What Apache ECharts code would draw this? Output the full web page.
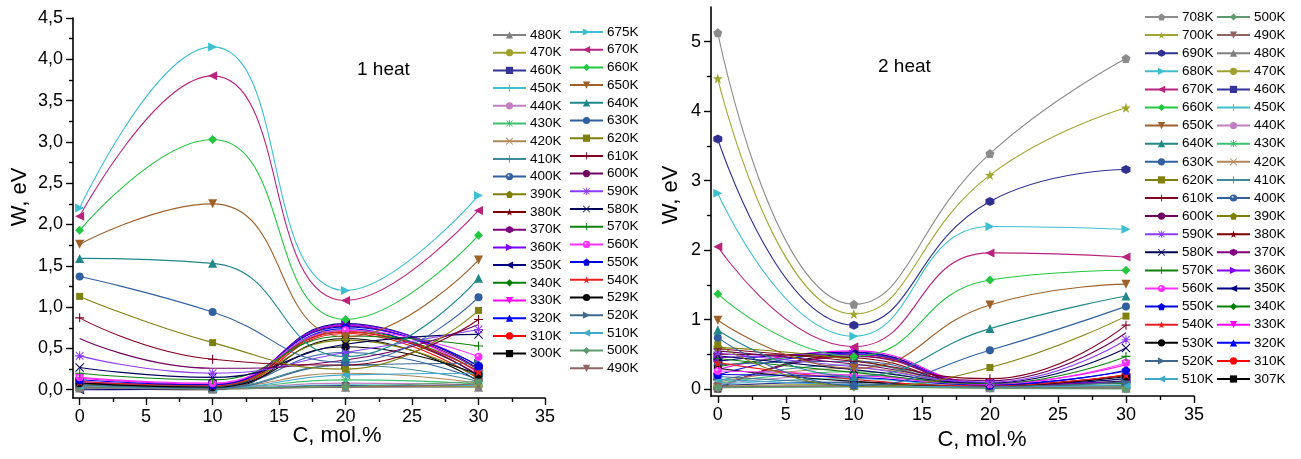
<!DOCTYPE html>
<html>
<head>
<meta charset="utf-8">
<script src="https://cdn.jsdelivr.net/npm/echarts@6/dist/echarts.min.js"></script>
<style>
html,body{margin:0;padding:0;background:#fff}
#chart{width:1301px;height:459px}
</style>
</head>
<body>
<div id="chart"></div>
<script>
// Composition C, mol.% (x positions of every curve)
const C = [0, 10, 20, 30];

// ---- 1 heat: W, eV at C = 0, 10, 20, 30 ----
const w1_300K = [0.02, 0.00, 0.62, 0.10];
const w1_310K = [0.03, 0.01, 0.68, 0.13];
const w1_320K = [0.04, 0.02, 0.74, 0.16];
const w1_330K = [0.14, 0.07, 0.78, 0.20];
const w1_340K = [0.05, 0.03, 0.72, 0.22];
const w1_350K = [0.00, 0.02, 0.80, 0.25];
const w1_360K = [0.10, 0.05, 0.79, 0.28];
const w1_370K = [0.08, 0.06, 0.77, 0.24];
const w1_380K = [0.06, 0.04, 0.70, 0.18];
const w1_390K = [0.07, 0.05, 0.60, 0.15];
const w1_400K = [0.05, 0.04, 0.45, 0.12];
const w1_410K = [0.04, 0.03, 0.30, 0.10];
const w1_420K = [0.04, 0.03, 0.20, 0.08];
const w1_430K = [0.03, 0.02, 0.12, 0.07];
const w1_440K = [0.03, 0.02, 0.08, 0.06];
const w1_450K = [0.02, 0.02, 0.06, 0.05];
const w1_460K = [0.02, 0.01, 0.05, 0.04];
const w1_470K = [0.02, 0.01, 0.04, 0.04];
const w1_480K = [0.02, 0.01, 0.03, 0.03];
const w1_490K = [0.03, 0.02, 0.03, 0.07];
const w1_500K = [0.04, 0.02, 0.04, 0.10];
const w1_510K = [0.05, 0.02, 0.18, 0.20];
const w1_520K = [0.06, 0.02, 0.30, 0.32];
const w1_529K = [0.08, 0.03, 0.52, 0.18];
const w1_540K = [0.10, 0.05, 0.70, 0.22];
const w1_550K = [0.12, 0.06, 0.76, 0.29];
const w1_560K = [0.15, 0.08, 0.72, 0.40];
const w1_570K = [0.20, 0.12, 0.65, 0.53];
const w1_580K = [0.27, 0.15, 0.55, 0.67];
const w1_590K = [0.41, 0.20, 0.45, 0.73];
const w1_600K = [0.62, 0.26, 0.36, 0.79];
const w1_610K = [0.87, 0.37, 0.30, 0.85];
const w1_620K = [1.13, 0.57, 0.25, 0.96];
const w1_630K = [1.37, 0.94, 0.33, 1.12];
const w1_640K = [1.59, 1.53, 0.40, 1.35];
const w1_650K = [1.76, 2.25, 0.64, 1.57];
const w1_660K = [1.93, 3.03, 0.85, 1.87];
const w1_670K = [2.10, 3.80, 1.08, 2.17];
const w1_675K = [2.20, 4.15, 1.20, 2.35];

// ---- 2 heat: W, eV at C = 0, 10, 20, 30 ----
const w2_307K = [0.00, 0.50, 0.05, 0.12];
const w2_310K = [0.02, 0.48, 0.06, 0.20];
const w2_320K = [0.20, 0.52, 0.07, 0.26];
const w2_330K = [0.28, 0.55, 0.08, 0.35];
const w2_340K = [0.32, 0.50, 0.06, 0.08];
const w2_350K = [0.40, 0.53, 0.05, 0.15];
const w2_360K = [0.45, 0.50, 0.07, 0.10];
const w2_370K = [0.02, 0.47, 0.06, 0.10];
const w2_380K = [0.50, 0.45, 0.05, 0.20];
const w2_390K = [0.60, 0.42, 0.05, 0.05];
const w2_400K = [0.35, 0.40, 0.04, 0.04];
const w2_410K = [0.12, 0.35, 0.04, 0.03];
const w2_420K = [0.10, 0.30, 0.03, 0.03];
const w2_430K = [0.08, 0.25, 0.03, 0.02];
const w2_440K = [0.07, 0.20, 0.03, 0.02];
const w2_450K = [0.06, 0.15, 0.02, 0.02];
const w2_460K = [0.05, 0.10, 0.02, 0.01];
const w2_470K = [0.04, 0.07, 0.02, 0.01];
const w2_480K = [0.03, 0.05, 0.02, 0.01];
const w2_490K = [0.03, 0.04, 0.02, 0.01];
const w2_500K = [0.02, 0.03, 0.01, 0.00];
const w2_510K = [0.14, 0.06, 0.03, 0.06];
const w2_520K = [0.18, 0.08, 0.04, 0.10];
const w2_530K = [0.30, 0.11, 0.05, 0.18];
const w2_540K = [0.38, 0.14, 0.05, 0.21];
const w2_550K = [0.21, 0.17, 0.06, 0.27];
const w2_560K = [0.26, 0.20, 0.07, 0.38];
const w2_570K = [0.44, 0.24, 0.08, 0.47];
const w2_580K = [0.48, 0.28, 0.09, 0.59];
const w2_590K = [0.52, 0.32, 0.10, 0.71];
const w2_600K = [0.55, 0.36, 0.12, 0.81];
const w2_610K = [0.58, 0.40, 0.15, 0.92];
const w2_620K = [0.64, 0.04, 0.31, 1.05];
const w2_630K = [0.74, 0.05, 0.56, 1.19];
const w2_640K = [0.85, 0.18, 0.87, 1.34];
const w2_650K = [0.99, 0.30, 1.21, 1.51];
const w2_660K = [1.37, 0.47, 1.57, 1.71];
const w2_670K = [2.05, 0.61, 1.96, 1.90];
const w2_680K = [2.82, 0.76, 2.34, 2.30];
const w2_690K = [3.60, 0.92, 2.70, 3.16];
const w2_700K = [4.47, 1.08, 3.08, 4.05];
const w2_708K = [5.13, 1.22, 3.39, 4.76];

// Series per panel, in legend order
const heat1Names = ['300K','310K','320K','330K','340K','350K','360K','370K','380K','390K','400K','410K','420K','430K','440K','450K','460K','470K','480K','490K','500K','510K','520K','529K','540K','550K','560K','570K','580K','590K','600K','610K','620K','630K','640K','650K','660K','670K','675K'];
const heat1Rows = [w1_300K,w1_310K,w1_320K,w1_330K,w1_340K,w1_350K,w1_360K,w1_370K,w1_380K,w1_390K,w1_400K,w1_410K,w1_420K,w1_430K,w1_440K,w1_450K,w1_460K,w1_470K,w1_480K,w1_490K,w1_500K,w1_510K,w1_520K,w1_529K,w1_540K,w1_550K,w1_560K,w1_570K,w1_580K,w1_590K,w1_600K,w1_610K,w1_620K,w1_630K,w1_640K,w1_650K,w1_660K,w1_670K,w1_675K];
const heat2Names = ['307K','310K','320K','330K','340K','350K','360K','370K','380K','390K','400K','410K','420K','430K','440K','450K','460K','470K','480K','490K','500K','510K','520K','530K','540K','550K','560K','570K','580K','590K','600K','610K','620K','630K','640K','650K','660K','670K','680K','690K','700K','708K'];
const heat2Rows = [w2_307K,w2_310K,w2_320K,w2_330K,w2_340K,w2_350K,w2_360K,w2_370K,w2_380K,w2_390K,w2_400K,w2_410K,w2_420K,w2_430K,w2_440K,w2_450K,w2_460K,w2_470K,w2_480K,w2_490K,w2_500K,w2_510K,w2_520K,w2_530K,w2_540K,w2_550K,w2_560K,w2_570K,w2_580K,w2_590K,w2_600K,w2_610K,w2_620K,w2_630K,w2_640K,w2_650K,w2_660K,w2_670K,w2_680K,w2_690K,w2_700K,w2_708K];

// Legend columns
const legend1ColA = ['480K','470K','460K','450K','440K','430K','420K','410K','400K','390K','380K','370K','360K','350K','340K','330K','320K','310K','300K'];
const legend1ColB = ['675K','670K','660K','650K','640K','630K','620K','610K','600K','590K','580K','570K','560K','550K','540K','529K','520K','510K','500K','490K'];
const legend2ColA = ['708K','700K','690K','680K','670K','660K','650K','640K','630K','620K','610K','600K','590K','580K','570K','560K','550K','540K','530K','520K','510K'];
const legend2ColB = ['500K','490K','480K','470K','460K','450K','440K','430K','420K','410K','400K','390K','380K','370K','360K','350K','340K','330K','320K','310K','307K'];

// Axis ticks
const xMajor = [0, 5, 10, 15, 20, 25, 30, 35];
const xMinor = [2.5, 7.5, 12.5, 17.5, 22.5, 27.5, 32.5];
const y1Major = [0, 0.5, 1, 1.5, 2, 2.5, 3, 3.5, 4, 4.5];
const y1Minor = [0.25, 0.75, 1.25, 1.75, 2.25, 2.75, 3.25, 3.75, 4.25];
const y2Major = [0, 1, 2, 3, 4, 5];
const y2Minor = [0.5, 1.5, 2.5, 3.5, 4.5];

// Marker shapes
const TRI_D = 'path://M0,0L10,0L5,8.66Z';
const TRI_L = 'path://M0,5L8.66,0L8.66,10Z';
const TRI_R = 'path://M0,0L8.66,5L0,10Z';
const PENT = 'path://M5,0L9.76,3.45L7.94,9.05L2.06,9.05L0.24,3.45Z';
const HEX = 'path://M5,0L9.33,2.5L9.33,7.5L5,10L0.67,7.5L0.67,2.5Z';
const STAR = 'path://M5,0L6.18,3.38L9.76,3.45L6.9,5.62L7.94,9.05L5,7L2.06,9.05L3.1,5.62L0.24,3.45L3.82,3.38Z';
const PLUS = 'path://M4.4,0H5.6V4.4H10V5.6H5.6V10H4.4V5.6H0V4.4H4.4Z';
const CROSS = 'path://M0.8,0L5,4.2L9.2,0L10,0.8L5.8,5L10,9.2L9.2,10L5,5.8L0.8,10L0,9.2L4.2,5L0,0.8Z';
const AST = 'path://M4.4,0H5.6V4.4H10V5.6H5.6V10H4.4V5.6H0V4.4H4.4Z M1.2,0.4L5,4.2L8.8,0.4L9.6,1.2L5.8,5L9.6,8.8L8.8,9.6L5,5.8L1.2,9.6L0.4,8.8L4.2,5L0.4,1.2Z';

const STY = {
  '300K': {c:'#000000', s:'rect', z:7},
  '307K': {c:'#000000', s:'rect', z:7},
  '310K': {c:'#FF0000', s:'circle', z:8},
  '320K': {c:'#0000FF', s:'triangle', z:9},
  '330K': {c:'#FF00FF', s:TRI_D, z:9},
  '340K': {c:'#008000', s:'diamond', z:9},
  '350K': {c:'#000080', s:TRI_L, z:9},
  '360K': {c:'#8000FF', s:TRI_R, z:9},
  '370K': {c:'#800080', s:HEX, z:9},
  '380K': {c:'#800000', s:STAR, z:10},
  '390K': {c:'#808000', s:PENT, z:9},
  '400K': {c:'#3060A0', s:'circle', z:8, ball:true},
  '410K': {c:'#3F8A9A', s:PLUS, z:9},
  '420K': {c:'#B08858', s:CROSS, z:9},
  '430K': {c:'#3CC070', s:AST, z:9},
  '440K': {c:'#C080C0', s:'none', z:8},
  '450K': {c:'#40C0C8', s:PLUS, z:9},
  '460K': {c:'#333399', s:'rect', z:7},
  '470K': {c:'#A0A030', s:'circle', z:8},
  '480K': {c:'#808080', s:'triangle', z:9},
  '490K': {c:'#8E6464', s:TRI_D, z:9},
  '500K': {c:'#5E9A6E', s:'diamond', z:9},
  '510K': {c:'#40A8C8', s:TRI_L, z:9},
  '520K': {c:'#3F6A8E', s:TRI_R, z:9},
  '529K': {c:'#000000', s:'circle', z:8},
  '530K': {c:'#000000', s:'circle', z:8},
  '540K': {c:'#E82020', s:STAR, z:10},
  '550K': {c:'#0000E0', s:PENT, z:9},
  '560K': {c:'#FF30FF', s:'circle', z:8, ball:true},
  '570K': {c:'#0F800F', s:PLUS, z:9},
  '580K': {c:'#00005A', s:CROSS, z:9},
  '590K': {c:'#8C3CFF', s:AST, z:9},
  '600K': {c:'#700060', s:'none', z:8},
  '610K': {c:'#800020', s:PLUS, z:9},
  '620K': {c:'#808010', s:'rect', z:7},
  '630K': {c:'#3060A0', s:'circle', z:8},
  '640K': {c:'#208888', s:'triangle', z:9},
  '650K': {c:'#A0602A', s:TRI_D, z:9},
  '660K': {c:'#22C840', s:'diamond', z:9},
  '670K': {c:'#B8237C', s:TRI_L, z:9},
  '675K': {c:'#3CC0D0', s:TRI_R, z:9},
  '680K': {c:'#3CC0D0', s:TRI_R, z:9},
  '690K': {c:'#303090', s:HEX, z:9},
  '700K': {c:'#A0A830', s:STAR, z:10},
  '708K': {c:'#8C8C8C', s:PENT, z:9}
};

const FONT = '"Liberation Sans", Arial, sans-serif';
const MINOR_TICK = {color: '#000', width: 1.4};

// Panel frames: grid boxes in pixels
const GRID1 = {left: 73, top: 18, width: 472, height: 380};
const GRID2 = {left: 711, top: 7, width: 483, height: 389};

function markerColor(st) {
  if (!st.ball) return st.c;
  return new echarts.graphic.RadialGradient(0.38, 0.35, 0.6, [
    {offset: 0, color: '#ffffff'},
    {offset: 0.35, color: st.c},
    {offset: 1, color: st.c}
  ]);
}

function makeSeries(names, rows, panel) {
  return names.map((name, k) => {
    const st = STY[name];
    return {
      type: 'line',
      name: name,
      xAxisIndex: panel * 3,
      yAxisIndex: panel * 3,
      smooth: 0.5,
      data: C.map((c, i) => [c, rows[k][i]]),
      symbol: st.s,
      symbolSize: st.z,
      showSymbol: st.s !== 'none',
      lineStyle: {color: st.c, width: 1.1},
      itemStyle: {color: markerColor(st), borderWidth: 0},
      emphasis: {disabled: true},
      animation: false
    };
  });
}

// Per panel: labelled x axis, a companion axis carrying only the minor ticks
// (anchored onto the bottom edge through a hidden 0..1 y axis), and that hidden anchor.
function xAxes(gridIndex, base) {
  return [
    {
      type: 'value', gridIndex: gridIndex, min: -0.5, max: 35, position: 'bottom',
      axisLine: {show: true, onZero: false, lineStyle: {color: '#000', width: 1.6}},
      axisTick: {show: true, inside: false, length: 7, lineStyle: {color: '#000', width: 1.4}, customValues: xMajor},
      axisLabel: {show: true, customValues: xMajor, color: '#000', fontSize: 18, fontFamily: FONT, margin: 10},
      splitLine: {show: false}
    },
    {
      type: 'value', gridIndex: gridIndex, min: -0.5, max: 35,
      axisLine: {show: false, onZero: true, onZeroAxisIndex: base + 2},
      axisTick: {show: true, inside: true, length: 4, lineStyle: MINOR_TICK, customValues: xMinor},
      axisLabel: {show: false},
      splitLine: {show: false}
    },
    {
      type: 'value', gridIndex: gridIndex, min: 0, max: 1, show: false,
      axisLine: {show: false, onZero: false}, splitLine: {show: false}
    }
  ];
}

function yAxes(gridIndex, base, min, max, major, minor, fmt) {
  return [
    {
      type: 'value', gridIndex: gridIndex, min: min, max: max, position: 'left',
      axisLine: {show: true, onZero: false, lineStyle: {color: '#000', width: 1.6}},
      axisTick: {show: true, inside: false, length: 7, lineStyle: {color: '#000', width: 1.4}, customValues: major},
      axisLabel: {show: true, customValues: major, color: '#000', fontSize: 18, fontFamily: FONT, margin: 10, formatter: fmt},
      splitLine: {show: false}
    },
    {
      type: 'value', gridIndex: gridIndex, min: min, max: max,
      axisLine: {show: false, onZero: true, onZeroAxisIndex: base + 2},
      axisTick: {show: true, inside: true, length: 4, lineStyle: MINOR_TICK, customValues: minor},
      axisLabel: {show: false},
      splitLine: {show: false}
    },
    {
      type: 'value', gridIndex: gridIndex, min: 0, max: 1, show: false,
      axisLine: {show: false, onZero: false}, splitLine: {show: false}
    }
  ];
}

function legend(left, top, gap, names) {
  return {
    orient: 'vertical', left: left, top: top, padding: 0,
    itemWidth: 33, itemHeight: 9, itemGap: gap,
    selectedMode: false,
    textStyle: {color: '#000', fontSize: 13.5, fontFamily: FONT, padding: [0, 0, 0, -1]},
    data: names
  };
}

const chart = echarts.init(document.getElementById('chart'), null, {renderer: 'canvas'});
chart.setOption({
  animation: false,
  backgroundColor: '#ffffff',
  grid: [GRID1, GRID2],
  xAxis: [].concat(xAxes(0, 0), xAxes(1, 3)),
  yAxis: [].concat(
    yAxes(0, 0, -0.1, 4.5, y1Major, y1Minor, v => v.toFixed(1).replace('.', ',')),
    yAxes(1, 3, -0.1, 5.5, y2Major, y2Minor, v => String(v))
  ),
  legend: [
    legend(492, 28, 3.7, legend1ColA),
    legend(569, 25, 3.7, legend1ColB),
    legend(1144, 10, 4.1, legend2ColA),
    legend(1216, 10, 4.1, legend2ColB)
  ],
  graphic: [
    {type: 'text', left: 357, top: 60, style: {text: '1 heat', fill: '#000', font: '19px ' + FONT}},
    {type: 'text', left: 878, top: 57, style: {text: '2 heat', fill: '#000', font: '19px ' + FONT}},
    {type: 'text', x: 337, y: 436, style: {text: 'C, mol.%', fill: '#000', font: '22px ' + FONT, align: 'center', verticalAlign: 'middle'}},
    {type: 'text', x: 982, y: 440, style: {text: 'C, mol.%', fill: '#000', font: '22px ' + FONT, align: 'center', verticalAlign: 'middle'}},
    {type: 'text', x: 20, y: 197, rotation: Math.PI / 2, style: {text: 'W, eV', fill: '#000', font: '22px ' + FONT, align: 'center', verticalAlign: 'middle'}},
    {type: 'text', x: 671, y: 195, rotation: Math.PI / 2, style: {text: 'W, eV', fill: '#000', font: '22px ' + FONT, align: 'center', verticalAlign: 'middle'}}
  ],
  series: [].concat(makeSeries(heat1Names, heat1Rows, 0), makeSeries(heat2Names, heat2Rows, 1))
});
</script>
</body>
</html>
